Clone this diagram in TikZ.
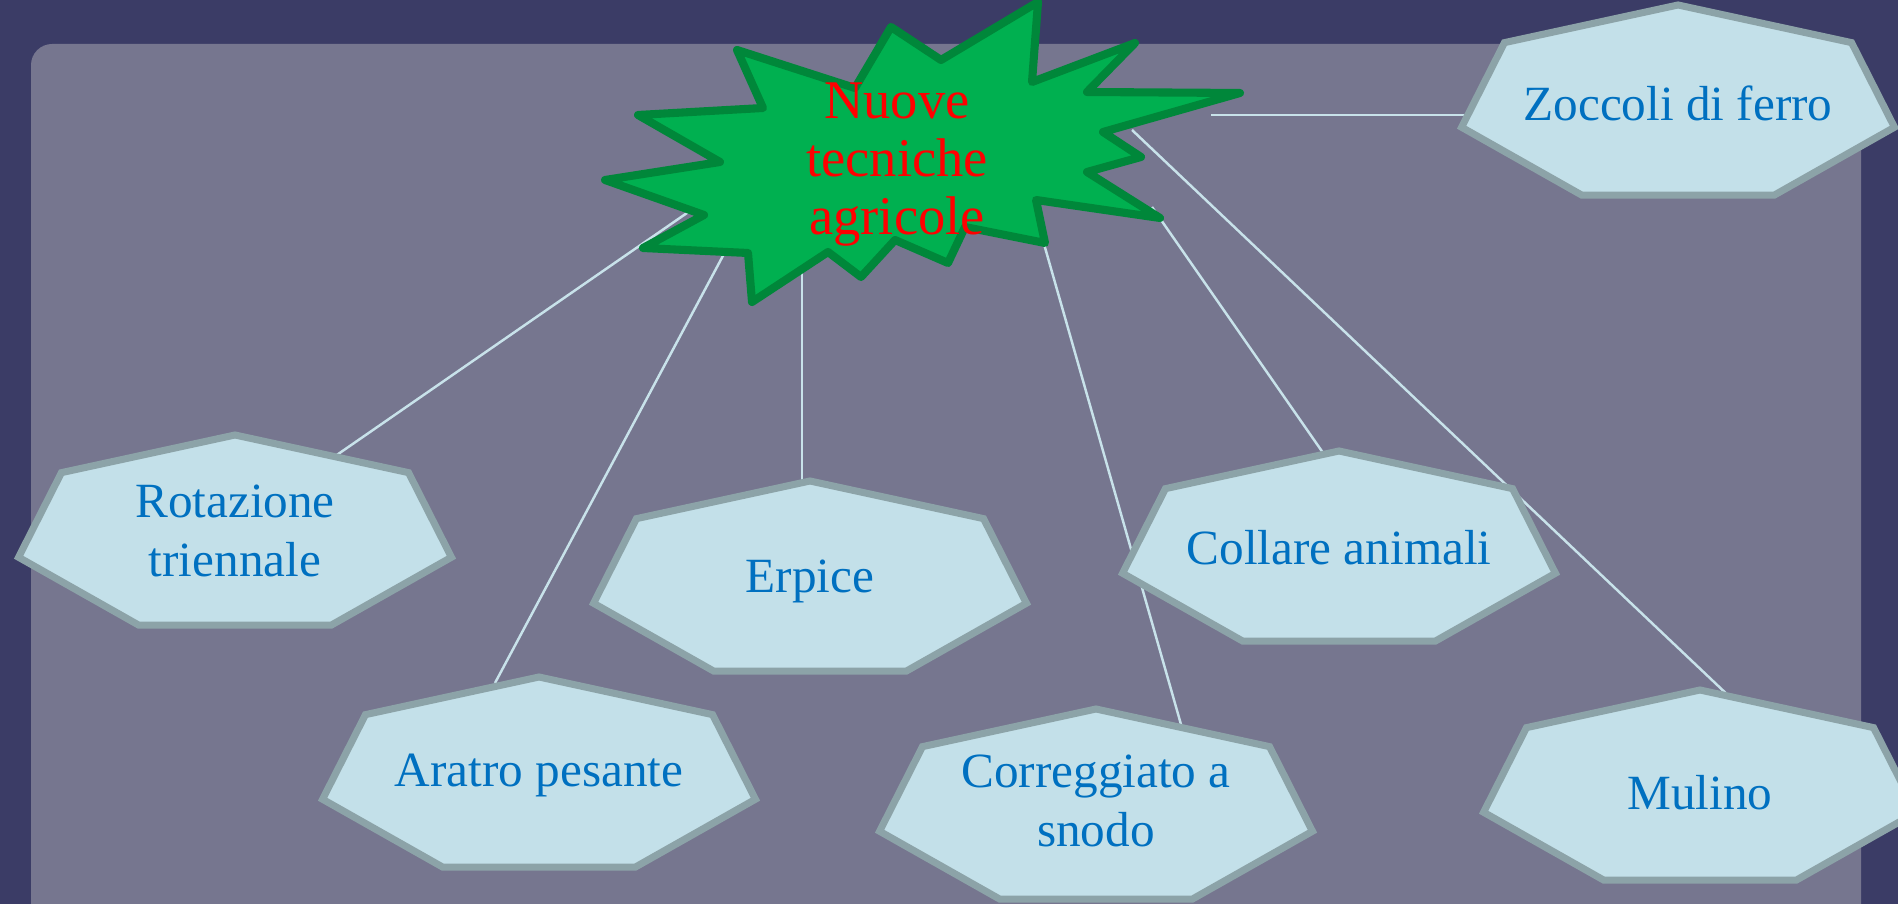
\documentclass[tikz,border=0pt]{standalone}
\usepackage{fontspec}
\setmainfont{Liberation Serif}

\definecolor{bgdark}{HTML}{3B3C66}
\definecolor{bglight}{HTML}{76768F}
\definecolor{hepfill}{HTML}{C3E0E9}
\definecolor{hepdraw}{HTML}{8CA3A8}
\definecolor{textblue}{HTML}{0070C0}
\definecolor{starfill}{HTML}{00B050}
\definecolor{stardraw}{HTML}{00873A}
\definecolor{linkcol}{HTML}{C8E2EA}

\begin{document}
\begin{tikzpicture}[x=0.01cm,y=-0.01cm,
  hepta/.style={fill=hepfill,draw=hepdraw,line width=2pt},
  hepttext/.style={text=textblue,font=\fontsize{14}{16.8}\selectfont,align=center},
  link/.style={draw=linkcol,line width=0.7pt},
  burst/.style={fill=starfill,draw=stardraw,line width=2.3pt,line join=round}]
\useasboundingbox (0,0) rectangle (1898,904);
\clip (0,0) rectangle (1898,904);
% background
\fill [bgdark] (0,0) rectangle (1898,904);
\fill [bglight,rounded corners=6pt] (31,44) rectangle (1861,930);
% connector ends
\coordinate (s-rot) at (713,195);  \coordinate (e-rot) at (331,459);
\coordinate (s-ara) at (733,237);  \coordinate (e-ara) at (495,683);
\coordinate (s-erp) at (802,250);  \coordinate (e-erp) at (802,487);
\coordinate (s-cor) at (1040,230); \coordinate (e-cor) at (1182,728);
\coordinate (s-col) at (1152,207); \coordinate (e-col) at (1328,460);
\coordinate (s-mul) at (1132,130); \coordinate (e-mul) at (1733,700);
\coordinate (s-zoc) at (1211,115); \coordinate (e-zoc) at (1472,115);
\foreach \nm in {rot,ara,erp,cor,col,mul,zoc}
  \draw [link] (s-\nm) -- (e-\nm);
% heptagons
\foreach \cx/\cy/\ty/\nm/\txt in {235/535/531/rot/{Rotazione\\triennale},
    539/777/775/ara/{Aratro pesante}, 810/581/581/erp/{Erpice},
    1096/809/801/cor/{Correggiato a\\snodo}, 1339/551/548/col/{Collare animali},
    1700/790/793/mul/{Mulino}, 1678/105/103/zoc/{Zoccoli di ferro}} {
  \draw [hepta] (\cx,\cy-100) \foreach \k in {1,...,6} {-- ({\cx+222*cos(-90+\k*360/7)},{\cy+100*sin(-90+\k*360/7)})} -- cycle;
  \node [hepttext] (\nm) at (\cx,\ty) {\txt};
}
% central burst
\draw [burst] (1038,2) -- (1032,82) -- (1135,43) -- (1087,92) -- (1240,93) -- (1103,132)
  -- (1141,157) -- (1087,172) -- (1160,218) -- (1036,200) -- (1045,243) -- (965,227)
  -- (948,263) -- (895,240) -- (861,277) -- (828,252) -- (752,302) -- (748,253)
  -- (643,248) -- (704,215) -- (605,180) -- (720,162) -- (638,115) -- (763,108)
  -- (737,50) -- (855,88) -- (891,27) -- (941,60) -- cycle;
\node [text=red,font=\fontsize{15.5}{16.5}\selectfont,align=center] (title) at (897,165) {Nuove\\tecniche\\agricole};
\end{tikzpicture}
\end{document}
